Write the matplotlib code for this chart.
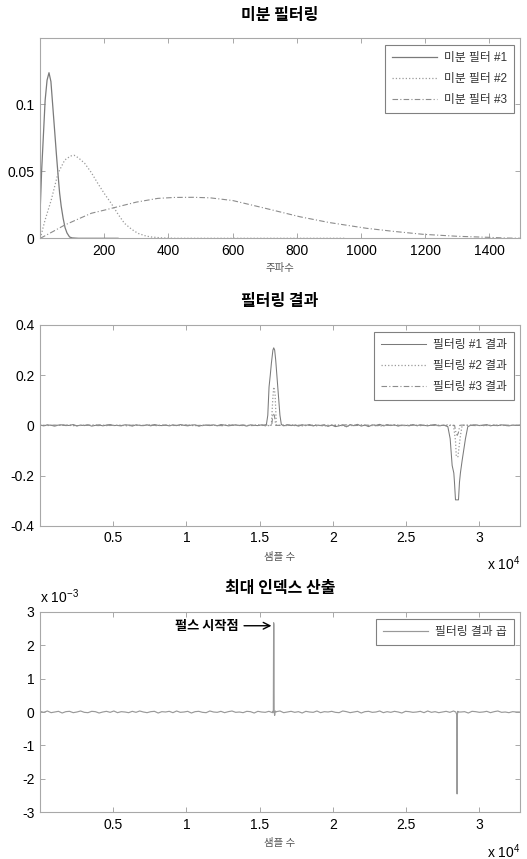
import numpy as np
import matplotlib
matplotlib.use("Agg")
import matplotlib.pyplot as plt

plt.rcParams['font.family'] = ['Liberation Sans', 'Noto Sans CJK KR', 'DejaVu Sans']
plt.rcParams['mathtext.fontset'] = 'custom'
plt.rcParams['mathtext.rm'] = 'Liberation Sans'
plt.rcParams['mathtext.it'] = 'Liberation Sans'

KR = ['Noto Sans CJK KR', 'DejaVu Sans']
MIX = ['Liberation Sans', 'Noto Sans CJK KR', 'DejaVu Sans']

# ---------------- data: panel 1 (filter responses) ----------------
f1_x = [1, 5, 10, 16, 22, 28, 34, 40, 46, 51, 56, 61, 66, 72, 78, 84, 92, 100, 120, 243]
f1_y = [0.024, 0.050, 0.074, 0.103, 0.118, 0.1236, 0.117, 0.098, 0.079, 0.063, 0.048, 0.034, 0.024, 0.015, 0.008, 0.004, 0.001, 0.0003, 0.0, 0.0]

f2_x = [1, 15, 35, 56, 77, 95, 106, 120, 139, 160, 180, 200, 222, 243, 263, 285, 305, 330, 346, 380, 420, 950]
f2_y = [0.0, 0.013, 0.0286, 0.0485, 0.0584, 0.0614, 0.062, 0.060, 0.056, 0.049, 0.041, 0.0335, 0.026, 0.018, 0.0112, 0.0068, 0.0037, 0.0017, 0.001, 0.0003, 0.0, 0.0]

f3_x = [1, 40, 77, 120, 160, 200, 243, 300, 367, 420, 477, 530, 600, 700, 809, 900, 1016, 1100, 1192, 1300, 1400, 1450, 1500]
f3_y = [0.0, 0.005, 0.0099, 0.0145, 0.0187, 0.021, 0.0236, 0.027, 0.0298, 0.0305, 0.0306, 0.0302, 0.0282, 0.0225, 0.0161, 0.0118, 0.0075, 0.0052, 0.003, 0.0015, 0.0007, 0.0002, 0.0]

f_labels = ['미분 필터 #1', '미분 필터 #2', '미분 필터 #3']

# ---------------- data: panel 2 (filtering results) ----------------
N_SAMPLES = 32768
# baseline wiggles (x 0.001), evenly spaced over the record
r1_noise = [1, -2, 2, 0, -3, 1, 2, -1, 0, 3,
            -2, 1, -1, 2, -3, 0, 2, -2, 1, 3,
            -1, 0, -2, 2, 1, -3, 2, 0, -1, 2,
            -2, 3, 0, -1, 1, -2, 2, -1, 3, 0,
            -2, 1, 2, -3, 0, 1, -1, 2, -2, 3,
            1, -2, 0, 2, -1, 1, -3, 2, 0, -1,
            2, -2, 1, 3, -1, 0, -2, 2, -1, 1,
            -3, 2, 0, 3, -2, 1, -1, 2, -4, 1,
            -5, -2, 2, -6, 3, -1, 4, -3, 1, -5,
            2, 0, 4, -2, 3, -1, 2, -3, 1, 0,
            -2, 3, -1, 2, 0, -2, 1, 3, -2, 0,
            2, -1, 1, -3, 2, 0, -2, 1, 2, -1,
            0, 3, -2, 1, -1, 2, 0, -2, 1, 0, 1]
r2_noise = [0, 1, -1, 2, 0, -2, 1, 0, 2, -1, 0, 1, -2, 1, 0, 2, -1, 0, 1, -1, 2, 0, -2, 1, 0, -1, 2, 1, -1, 0,
            2, -2, 1, 0, -1, 3, -2, 0, 2, -3, 1, 2, -4, 0, 3, -2, 1, -3, 2, 0, -1, 2, -2, 1, 0, -1, 2, 0, -2, 1,
            1, -1, 0, 2, -1, 0, 0]
r3_noise = [0, -1, 1, 0, 1, -1, 0, 1, -1, 1, 0, -1, 1, 0, -1, 1, 0, 1, -1, 0, 1, -1, 0, 1, 0, -1, 1, 0, 1, -1,
            0, 1, -1, 0, 2, -1, 1, 0, -2, 1, 0, -1, 2, -1, 0, 1, -2, 1, 0, 1, -1, 0, 1, -1, 0, 1, -1, 0, 1, 0,
            -1, 1, 0, -1, 1, 0, 0]

r1_pos_x = [15300, 15455, 15550, 15636, 15720, 15795, 15900, 15955, 16020, 16091, 16170, 16250, 16380, 16477, 16600]
r1_pos_y = [0.0, 0.003, 0.04, 0.153, 0.20, 0.247, 0.30, 0.309, 0.30, 0.26, 0.20, 0.14, 0.04, 0.003, 0.0]
r2_pos_x = [15795, 15886, 15955, 16046, 16136]
r2_pos_y = [0.0, 0.10, 0.153, 0.127, 0.0]
r3_pos_x = [15818, 15909, 16000, 16091]
r3_pos_y = [0.0, 0.047, 0.040, 0.0]

r1_neg_x = [27600, 27841, 28000, 28136, 28250, 28295, 28364, 28568, 28636, 28700, 28818, 29045, 29205, 29400]
r1_neg_y = [0.0, -0.005, -0.053, -0.16, -0.19, -0.227, -0.297, -0.297, -0.227, -0.19, -0.14, -0.053, -0.005, 0.0]
r2_neg_x = [28227, 28363, 28420, 28530, 28600, 28704, 28818]
r2_neg_y = [0.0, -0.06, -0.125, -0.125, -0.09, -0.04, 0.0]
r3_neg_x = [28300, 28400, 28480, 28560, 28660]
r3_neg_y = [0.0, -0.03, -0.04, -0.03, 0.0]

r_labels = ['필터링 #1 결과', '필터링 #2 결과', '필터링 #3 결과']

# ---------------- data: panel 3 (product) ----------------
p_noise = [2, -1, 3, -2, 0, 2, -3, 1, 2, -2,
           0, 3, -1, -2, 2, 1, -3, 0, 2, -1,
           3, -2, 1, 0, -2, 2, -1, 3, 0, -2,
           1, 2, -3, 1, 0, 2, -2, 3, -1, 0,
           2, -3, 1, 2, -1, -2, 3, 0, -1, 2,
           -2, 1, 3, -1, 0, -2, 2, 1, -3, 2,
           0, -1, 2, -2, 1, 3, -2, 0, 2, -1,
           1, -3, 2, 0, -1, 3, -2, 1, 0, 2,
           -1, -2, 3, 1, -2, 0, 2, -3, 1, 2,
           -1, 0, 3, -2, 1, -1, 2, 0, -3, 2,
           1, -1, 0, 2, -2, 3, -1, 1, -2, 0,
           2, -1, 3, -2, 0, 1, -3, 2, 1, -1,
           0, 2, -2, 1, 3, -1, 0, -2, 1, 0, 0]   # x 1e-5
p_pos_x = [15880, 15930, 15950, 15965, 15985, 16020, 16060, 16120]
p_pos_y = [0.00002, 0.0, 0.00267, 0.00262, 0.0, -0.0001, 0.00003, 0.0]
p_neg_x = [28380, 28440, 28460, 28475, 28490, 28520, 28570]
p_neg_y = [0.0, -0.00006, -0.0001, -0.00245, -0.0001, 0.00002, 0.0]
p_label = '필터링 결과 곱'
annot_text = '펄스 시작점'


def merge(noise, scale, parts):
    bx = np.linspace(0, N_SAMPLES, len(noise))
    by = np.array(noise, dtype=float) * scale
    mask = np.ones_like(bx, dtype=bool)
    for px, py in parts:
        mask &= (bx < min(px)) | (bx > max(px))
    xs = [bx[mask]] + [np.array(p[0], float) for p in parts]
    ys = [by[mask]] + [np.array(p[1], float) for p in parts]
    x = np.concatenate(xs)
    y = np.concatenate(ys)
    o = np.argsort(x, kind='stable')
    return x[o], y[o]


W, H = 527, 859
fig = plt.figure(figsize=(W / 100, H / 100), dpi=100)
GRAY = '#a8a8a8'
c1, c2, c3 = '#7a7a7a', '#9a9a9a', '#8c8c8c'
dashdot = (0, (5, 2, 1, 2))


def axes_px(top, bottom, left=40, right=520):
    return fig.add_axes([left / W, (H - bottom) / H, (right - left) / W, (bottom - top) / H])


def style(ax):
    for s in ax.spines.values():
        s.set_color(GRAY)
        s.set_linewidth(0.8)
    ax.tick_params(direction='in', top=True, right=True, length=3.5, width=0.7,
                   color=GRAY, labelsize=10, labelcolor='black', pad=4)


def legend(ax, y):
    lg = ax.legend(loc='upper right', bbox_to_anchor=(0.9875, y), borderaxespad=0,
                   fancybox=False, frameon=True, edgecolor='#808080', framealpha=1,
                   prop={'family': MIX, 'size': 8.5}, handlelength=3.8, handletextpad=0.6,
                   labelspacing=0.75, borderpad=0.6)
    lg.get_frame().set_linewidth(0.8)
    for t in lg.get_texts():
        t.set_color('#333333')
    return lg


# ---- Panel 1 ----
ax1 = axes_px(38, 238.3)
ax1.plot(f1_x, f1_y, color=c1, lw=0.9, label=f_labels[0])
ax1.plot(f2_x, f2_y, color=c2, lw=0.9, ls=':', label=f_labels[1])
ax1.plot(f3_x, f3_y, color=c3, lw=0.8, ls=dashdot, label=f_labels[2])
ax1.set_xlim(0, 1495)
ax1.set_ylim(0, 0.1495)
ax1.set_xticks([200, 400, 600, 800, 1000, 1200, 1400])
ax1.set_xticklabels(['200', '400', '600', '800', '1000', '1200', '1400'])
ax1.set_yticks([0, 0.05, 0.1])
ax1.set_yticklabels(['0', '0.05', '0.1'])
style(ax1)
ax1.set_title('미분 필터링', family=KR, fontsize=11.5, fontweight='bold', y=1.115, va='center', pad=0)
ax1.set_xlabel('주파수', family=KR, fontsize=7.5, color='#555555', va='center')
ax1.xaxis.set_label_coords(0.5, -0.148)
legend(ax1, 0.965)

# ---- Panel 2 ----
ax2 = axes_px(325, 525.7)
x1, y1 = merge(r1_noise, 0.001, [(r1_pos_x, r1_pos_y), (r1_neg_x, r1_neg_y)])
x2, y2 = merge(r2_noise, 0.001, [(r2_pos_x, r2_pos_y), (r2_neg_x, r2_neg_y)])
x3, y3 = merge(r3_noise, 0.001, [(r3_pos_x, r3_pos_y), (r3_neg_x, r3_neg_y)])
ax2.plot(x1, y1, color=c1, lw=0.75, label=r_labels[0])
ax2.plot(x2, y2, color=c2, lw=0.9, ls=':', label=r_labels[1])
ax2.plot(x3, y3, color=c3, lw=0.8, ls=dashdot, label=r_labels[2])
ax2.set_xlim(0, N_SAMPLES)
ax2.set_ylim(-0.4, 0.4)
ax2.set_xticks([5000, 10000, 15000, 20000, 25000, 30000])
ax2.set_xticklabels(['0.5', '1', '1.5', '2', '2.5', '3'])
ax2.set_yticks([-0.4, -0.2, 0, 0.2, 0.4])
ax2.set_yticklabels(['-0.4', '-0.2', '0', '0.2', '0.4'])
style(ax2)
ax2.set_title('필터링 결과', family=KR, fontsize=11.5, fontweight='bold', y=1.121, va='center', pad=0)
ax2.set_xlabel('샘플 수', family=KR, fontsize=7.5, color='#555555', va='center')
ax2.xaxis.set_label_coords(0.5, -0.154)
ax2.text(1.0, -0.19, r'x 10$^{4}$', transform=ax2.transAxes, ha='right', va='center', fontsize=10)
legend(ax2, 0.965)

# ---- Panel 3 ----
ax3 = axes_px(611.7, 812.3)
xp, yp = merge(p_noise, 1e-5, [(p_pos_x, p_pos_y), (p_neg_x, p_neg_y)])
ax3.plot(xp, yp, color='#999999', lw=0.85, label=p_label)
ax3.set_xlim(0, N_SAMPLES)
ax3.set_ylim(-0.003, 0.003)
ax3.set_xticks([5000, 10000, 15000, 20000, 25000, 30000])
ax3.set_xticklabels(['0.5', '1', '1.5', '2', '2.5', '3'])
ax3.set_yticks([-0.003, -0.002, -0.001, 0, 0.001, 0.002, 0.003])
ax3.set_yticklabels(['-3', '-2', '-1', '0', '1', '2', '3'])
style(ax3)
ax3.set_title('최대 인덱스 산출', family=KR, fontsize=11.5, fontweight='bold', y=1.118, va='center', pad=0)
ax3.set_xlabel('샘플 수', family=KR, fontsize=7.5, color='#555555', va='center')
ax3.xaxis.set_label_coords(0.5, -0.155)
ax3.text(1.0, -0.195, r'x 10$^{4}$', transform=ax3.transAxes, ha='right', va='center', fontsize=10)
ax3.text(0.0, 1.073, r'x 10$^{-3}$', transform=ax3.transAxes, ha='left', va='center', fontsize=10)
ax3.annotate(annot_text, xy=(15800, 0.00258), xytext=(13550, 0.00258),
             ha='right', va='center', family=KR, fontsize=9.5, fontweight='bold',
             arrowprops=dict(arrowstyle='->', color='black', lw=1.0, shrinkA=2, shrinkB=0,
                             mutation_scale=12))
legend(ax3, 0.9636)

fig.savefig('out.png', dpi=100)
